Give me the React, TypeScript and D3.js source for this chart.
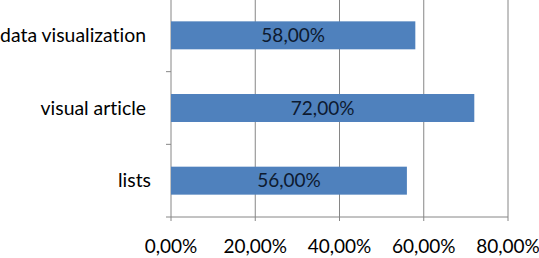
import React from "react";
import * as d3 from "d3";

const categories = ["data visualization", "visual article", "lists"];
const values = [58, 72, 56];
const xTicks = [0, 20, 40, 60, 80];

const W = 539;
const H = 258;
const FONT = "Lato, 'Open Sans', sans-serif";

export default function App() {
  const x = d3.scaleLinear().domain([0, 80]).range([171, 508]);
  const y = d3
    .scaleBand<string>()
    .domain(categories)
    .range([-1, 217])
    .paddingInner(0.615)
    .paddingOuter(0.3075);
  const step = y.step();
  const fmt = (v: number) => v.toFixed(2).replace(".", ",") + "%";
  const bounds = d3.range(categories.length + 1).map((i) => -1 + i * step);

  return (
    <svg
      width={W}
      height={H}
      style={{
        position: "absolute",
        left: 0,
        top: 0,
        background: "#fff",
        fontVariantLigatures: "none",
      }}
      fontFamily={FONT}
    >
      {/* gridlines */}
      {xTicks.map((t) => (
        <line
          key={"g" + t}
          x1={x(t)}
          x2={x(t)}
          y1={-1}
          y2={221}
          stroke="#868686"
          strokeWidth={1}
        />
      ))}
      {/* x axis line */}
      <line x1={x(0)} x2={x(80)} y1={217} y2={217} stroke="#868686" />
      {/* category ticks */}
      {bounds.map((b, i) => (
        <line key={"c" + i} x1={166} x2={171} y1={b} y2={b} stroke="#868686" />
      ))}
      {/* bars */}
      {categories.map((c, i) => (
        <rect
          key={c}
          x={x(0)}
          y={y(c)}
          width={x(values[i]) - x(0)}
          height={y.bandwidth()}
          fill="#4F81BD"
        />
      ))}
      {/* bar labels */}
      {categories.map((c, i) => (
        <text
          key={"l" + c}
          x={(x(0) + x(values[i])) / 2}
          y={(y(c) as number) + y.bandwidth() / 2}
          dy="0.35em"
          textAnchor="middle"
          fontSize={19}
          fill="#0d1a30"
        >
          {fmt(values[i])}
        </text>
      ))}
      {/* category labels */}
      {categories.map((c) => (
        <text
          key={"cl" + c}
          x={c === "lists" ? 151 : 146}
          y={(y(c) as number) + y.bandwidth() / 2}
          dy="0.35em"
          textAnchor="end"
          fontSize={19.4}
          fill="#000"
        >
          {c}
        </text>
      ))}
      {/* x tick labels */}
      {xTicks.map((t) => (
        <text
          key={"t" + t}
          x={x(t)}
          y={253}
          textAnchor="middle"
          fontSize={19}
          fill="#000"
        >
          {fmt(t)}
        </text>
      ))}
    </svg>
  );
}
